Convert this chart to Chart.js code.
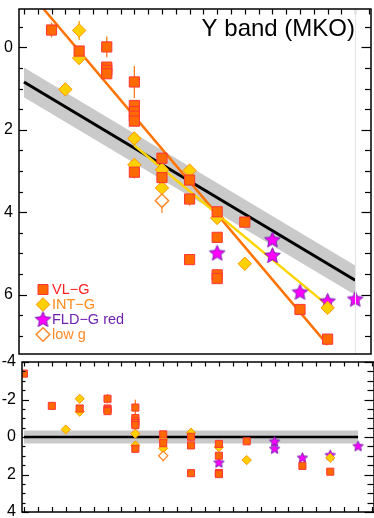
<!DOCTYPE html>
<html><head><meta charset="utf-8">
<script src="https://cdn.jsdelivr.net/npm/chart.js@4/dist/chart.umd.min.js"></script>
<style>
html,body{margin:0;padding:0;background:#fff;overflow:hidden;width:374px;height:518px;}
#top{position:absolute;left:0;top:0;}
#bot{position:absolute;left:0;top:350px;}
</style></head><body>
<canvas id="top" width="380" height="363"></canvas>
<canvas id="bot" width="380" height="168"></canvas>
<script>
// ---------- data ----------
const titleText = 'Y band (MKO)';
const legendLabels = ['VL\u2212G', 'INT\u2212G', 'FLD\u2212G red', 'low g'];
const topYTicks = [0, 2, 4, 6];
const botYTicks = [-4, -2, 0, 2, 4];

// top panel: absolute magnitudes vs spectral type index
const vlgX   = [1, 2, 3, 3, 3, 3, 4, 4, 4, 4, 4, 4, 5, 5, 6, 6, 6, 7, 7, 7, 7, 8, 10, 11];
const vlgY   = [-0.42, 0.09, -0.01, 0.48, 0.56, 0.64, 0.84, 1.41, 1.56, 1.67, 1.79, 3.03, 2.69, 3.16, 3.22, 3.68, 5.15, 3.99, 4.61, 5.52, 5.61, 4.24, 6.36, 7.08];
const vlgErr = [0.18, 0.12, 0.25, 0.12, 0, 0, 0.39, 0.1, 0, 0, 0, 0.15, 0.1, 0.1, 0.1, 0.16, 0.12, 0.14, 0.1, 0.12, 0.1, 0.14, 0, 0];

const intX   = [1.5, 2, 2, 4, 4, 5, 5, 6, 7, 8, 11];
const intY   = [1.02, -0.41, 0.26, 2.21, 2.85, 2.97, 3.41, 2.99, 4.14, 5.25, 6.32];
const intErr = [0, 0.23, 0, 0, 0, 0, 0, 0, 0, 0, 0];

const fldX = [7, 9, 9, 10, 11, 12];
const fldY = [4.99, 4.67, 5.05, 5.94, 6.16, 6.11];

const lowX   = [5];
const lowY   = [3.72];
const lowErr = [0.3];

const fieldFitX = [0, 12];
const fieldFitY = [0.84, 5.65];
const bandUpperY = [0.49, 5.29];
const bandLowerY = [1.21, 6.01];
const vlgFitX = [0.5, 11];
const vlgFitY = [-1.10, 7.22];
const intFitX = [4, 11];
const intFitY = [2.38, 6.26];

// bottom panel: residuals
const resVlgX   = [0, 1, 2, 3, 3, 3, 3, 4, 4, 4, 4, 4, 4, 5, 5, 6, 6, 6, 7, 7, 7, 7, 8, 10, 11];
const resVlgY   = [-3.38, -1.66, -1.52, -2.04, -1.52, -1.45, -1.38, -1.57, -1.01, -0.86, -0.74, -0.63, 0.63, -0.14, 0.33, -0.01, 0.45, 1.93, 0.37, 1.0, 1.92, 1.98, 0.23, 1.54, 1.85];
const resVlgErr = [0, 0.18, 0, 0.25, 0.12, 0, 0, 0.42, 0.1, 0, 0, 0, 0.15, 0.1, 0.1, 0.1, 0.16, 0.12, 0.14, 0.1, 0.1, 0.12, 0.14, 0, 0];
const resIntX = [1.5, 2, 2, 4, 4, 5, 5, 6, 7, 8, 11];
const resIntY = [-0.40, -2.04, -1.35, -0.18, 0.45, 0.15, 0.60, -0.23, 0.54, 1.23, 1.11];
const resFldX = [7, 9, 9, 10, 11, 12];
const resFldY = [1.37, 0.25, 0.63, 1.11, 0.97, 0.49];
const resLowX = [5];
const resLowY = [1.0];
const resLowErr = [0.3];
const zeroX = [0, 12];
const zeroY = [0, 0];
const resBandUpper = [-0.35, -0.35];
const resBandLower = [0.35, 0.35];

// ---------- styling ----------
const FONT = "'Liberation Sans', Arial, Helvetica, sans-serif";
Chart.defaults.font.family = FONT;
const SQ_FILL = '#FF6A00', SQ_EDGE = '#FF3535';
const DI_FILL = '#FFD000', DI_EDGE = '#FF9400';
const ST_FILL = '#FF00FF', ST_EDGE = '#7A1FB0';
const LOW_EDGE = '#FF8A2A';
const BAND = '#CACACA';

function pts(xs, ys) { return xs.map((x, i) => ({x: x, y: ys[i]})); }

function starCanvas(R, fill, stroke) {
  const s = Math.ceil(R * 2 + 4);
  const c = document.createElement('canvas');
  c.width = s; c.height = s;
  const g = c.getContext('2d');
  const cx = s / 2, cy = s / 2 + R * 0.05, r = R * 0.46;
  g.beginPath();
  for (let i = 0; i < 10; i++) {
    const a = -Math.PI / 2 + i * Math.PI / 5;
    const rr = (i % 2) ? r : R;
    g.lineTo(cx + rr * Math.cos(a), cy + rr * Math.sin(a));
  }
  g.closePath();
  g.fillStyle = fill; g.fill();
  g.strokeStyle = stroke; g.lineWidth = 1; g.stroke();
  return c;
}
const starBig = starCanvas(8.2, ST_FILL, ST_EDGE);
const starSmall = starCanvas(5.4, ST_FILL, ST_EDGE);

function errPlugin(list) {
  return {
    id: 'errbars',
    beforeDatasetsDraw(chart) {
      const {ctx, chartArea: a, scales: {x, y}} = chart;
      ctx.save();
      ctx.beginPath(); ctx.rect(a.left, a.top, a.right - a.left, a.bottom - a.top); ctx.clip();
      list.forEach(s => {
        ctx.strokeStyle = s.color; ctx.lineWidth = 1.3;
        s.xs.forEach((xv, i) => {
          const e = s.errs[i];
          if (!e) return;
          const px = x.getPixelForValue(xv);
          ctx.beginPath();
          ctx.moveTo(px, y.getPixelForValue(s.ys[i] - e));
          ctx.lineTo(px, y.getPixelForValue(s.ys[i] + e));
          ctx.stroke();
        });
      });
      ctx.restore();
    }
  };
}

function framePlugin(cfg) {
  return {
    id: 'frame',
    afterDraw(chart) {
      const {ctx, chartArea: a, scales: {x, y}} = chart;
      ctx.save();
      ctx.strokeStyle = '#000';
      ctx.lineWidth = 1.2;
      const ln = (x1, y1, x2, y2) => { ctx.beginPath(); ctx.moveTo(x1, y1); ctx.lineTo(x2, y2); ctx.stroke(); };
      for (let v = 0; v <= x.max + 1e-9; v += 0.5) {
        const px = Math.round(x.getPixelForValue(v)) + 0.5;
        if (cfg.topTick) ln(px, a.top, px, a.top + cfg.topTick);
        if (cfg.botTick) ln(px, a.bottom, px, a.bottom - cfg.botTick);
      }
      const start = Math.ceil(y.min * 2) / 2;
      for (let v = start; v <= y.max + 1e-9; v += 0.5) {
        const py = Math.round(y.getPixelForValue(v)) + 0.5;
        const major = Math.abs(v % 2) < 1e-9;
        ln(a.left, py, a.left + (major ? cfg.lMaj : cfg.lMin), py);
        ln(a.right, py, a.right - (major ? cfg.rMaj : cfg.rMin), py);
      }
      if (cfg.faint) {
        ctx.strokeStyle = '#E4E4E4'; ctx.lineWidth = 1;
        const px = Math.round(x.getPixelForValue(12)) + 0.5;
        ln(px, a.top, px, a.bottom);
      }
      ctx.strokeStyle = '#000'; ctx.lineWidth = 1.5;
      ctx.strokeRect(a.left, a.top, a.right - a.left, a.bottom - a.top);
      ctx.restore();
    }
  };
}

const decorPlugin = {
  id: 'decor',
  afterDraw(chart) {
    const ctx = chart.ctx;
    ctx.save();
    ctx.fillStyle = '#000';
    ctx.font = '24px ' + FONT;
    ctx.textAlign = 'right'; ctx.textBaseline = 'alphabetic';
    ctx.fillText(titleText, 355, 36);
    const colors = ['#FF2222', '#FF8A1C', '#6E22B0', '#FF8A2A'];
    const lx = 43, ly0 = 289.5, dy = 15;
    legendLabels.forEach((t, i) => {
      const y = ly0 + i * dy;
      ctx.lineWidth = 1;
      if (i === 0) {
        ctx.fillStyle = SQ_FILL; ctx.strokeStyle = SQ_EDGE;
        ctx.beginPath(); ctx.rect(lx - 5, y - 5, 10, 10); ctx.fill(); ctx.stroke();
      } else if (i === 1 || i === 3) {
        const r = 6.8;
        ctx.beginPath(); ctx.moveTo(lx - r, y); ctx.lineTo(lx, y - r); ctx.lineTo(lx + r, y); ctx.lineTo(lx, y + r); ctx.closePath();
        if (i === 1) { ctx.fillStyle = DI_FILL; ctx.fill(); ctx.strokeStyle = DI_EDGE; ctx.stroke(); }
        else { ctx.fillStyle = '#fff'; ctx.fill(); ctx.strokeStyle = LOW_EDGE; ctx.lineWidth = 1.5; ctx.stroke(); }
      } else {
        ctx.drawImage(starBig, lx - starBig.width / 2, y - starBig.height / 2);
      }
      ctx.fillStyle = colors[i];
      ctx.font = '14.5px ' + FONT;
      ctx.textAlign = 'left'; ctx.textBaseline = 'middle';
      ctx.fillText(t, 52, y + 0.5);
    });
    ctx.restore();
  }
};

function yAxis(min, max, ticks, width) {
  return {
    type: 'linear', reverse: true, min: min, max: max,
    afterBuildTicks: s => { s.ticks = ticks.map(v => ({value: v})); },
    afterFit: s => { s.width = width; s.paddingTop = 0; s.paddingBottom = 0; },
    grid: {display: false, drawTicks: false},
    border: {display: false},
    ticks: {padding: 6, color: '#000', autoSkip: false, font: {family: FONT, size: 16}}
  };
}

// ---------- top chart ----------
new Chart(document.getElementById('top'), {
  type: 'scatter',
  data: {
    datasets: [
      {type: 'line', data: pts(fieldFitX, bandUpperY), borderWidth: 0, pointRadius: 0, fill: false, order: 20},
      {type: 'line', data: pts(fieldFitX, bandLowerY), borderWidth: 0, pointRadius: 0, fill: '-1', backgroundColor: BAND, order: 19},
      {type: 'line', data: pts(fieldFitX, fieldFitY), borderColor: '#000', borderWidth: 3, pointRadius: 0, fill: false, order: 18},
      {type: 'line', data: pts(vlgFitX, vlgFitY), borderColor: '#FF7300', borderWidth: 2.5, pointRadius: 0, fill: false, order: 17},
      {type: 'line', data: pts(intFitX, intFitY), borderColor: '#FFD400', borderWidth: 2.5, pointRadius: 0, fill: false, order: 16},
      {data: pts(fldX, fldY), pointStyle: starBig, pointRadius: 8, order: 10},
      {data: pts(intX, intY), pointStyle: 'rectRot', pointRadius: 6.7, backgroundColor: DI_FILL, borderColor: DI_EDGE, borderWidth: 1, order: 9},
      {data: pts(vlgX, vlgY), pointStyle: 'rect', pointRadius: 7.2, backgroundColor: SQ_FILL, borderColor: SQ_EDGE, borderWidth: 1, order: 8},
      {data: pts(lowX, lowY), pointStyle: 'rectRot', pointRadius: 6.7, backgroundColor: '#fff', borderColor: LOW_EDGE, borderWidth: 1.5, order: 7}
    ]
  },
  options: {
    responsive: false, animation: false, events: [],
    layout: {padding: {top: 1, right: 4, bottom: 1, left: 0}},
    plugins: {legend: {display: false}, tooltip: {enabled: false}},
    scales: {
      x: {type: 'linear', display: false, min: -5 / 28, max: 352 / 28},
      y: yAxis(-0.93, 7.44, topYTicks, 19)
    }
  },
  plugins: [
    errPlugin([
      {xs: vlgX, ys: vlgY, errs: vlgErr, color: '#FF7A1A'},
      {xs: intX, ys: intY, errs: intErr, color: '#FFA000'},
      {xs: lowX, ys: lowY, errs: lowErr, color: LOW_EDGE}
    ]),
    framePlugin({topTick: 5.5, botTick: 0, lMaj: 8, lMin: 4, rMaj: 9.5, rMin: 6, faint: true}),
    decorPlugin
  ]
});

// ---------- bottom chart ----------
new Chart(document.getElementById('bot'), {
  type: 'scatter',
  data: {
    datasets: [
      {type: 'line', data: pts(zeroX, resBandUpper), borderWidth: 0, pointRadius: 0, fill: false, order: 20},
      {type: 'line', data: pts(zeroX, resBandLower), borderWidth: 0, pointRadius: 0, fill: '-1', backgroundColor: BAND, order: 19},
      {type: 'line', data: pts(zeroX, zeroY), borderColor: '#000', borderWidth: 2.5, pointRadius: 0, fill: false, order: 18},
      {data: pts(resFldX, resFldY), pointStyle: starSmall, pointRadius: 5, order: 10},
      {data: pts(resIntX, resIntY), pointStyle: 'rectRot', pointRadius: 4.6, backgroundColor: DI_FILL, borderColor: DI_EDGE, borderWidth: 1, order: 9},
      {data: pts(resVlgX, resVlgY), pointStyle: 'rect', pointRadius: 5, backgroundColor: SQ_FILL, borderColor: SQ_EDGE, borderWidth: 1, order: 8},
      {data: pts(resLowX, resLowY), pointStyle: 'rectRot', pointRadius: 4.6, backgroundColor: '#fff', borderColor: LOW_EDGE, borderWidth: 1.3, order: 7}
    ]
  },
  options: {
    responsive: false, animation: false, events: [],
    layout: {padding: {top: 12, right: 4, bottom: 1, left: 0}},
    plugins: {legend: {display: false}, tooltip: {enabled: false}},
    scales: {
      x: {type: 'linear', display: false, min: -2 / 28, max: 352 / 28},
      y: yAxis(-4, 4, botYTicks, 22)
    }
  },
  plugins: [
    errPlugin([
      {xs: resVlgX, ys: resVlgY, errs: resVlgErr, color: '#FF7A1A'},
      {xs: resLowX, ys: resLowY, errs: resLowErr, color: LOW_EDGE}
    ]),
    framePlugin({topTick: 4.5, botTick: 5, lMaj: 7, lMin: 3.5, rMaj: 9.5, rMin: 6.5, faint: false})
  ]
});
</script>
</body></html>
